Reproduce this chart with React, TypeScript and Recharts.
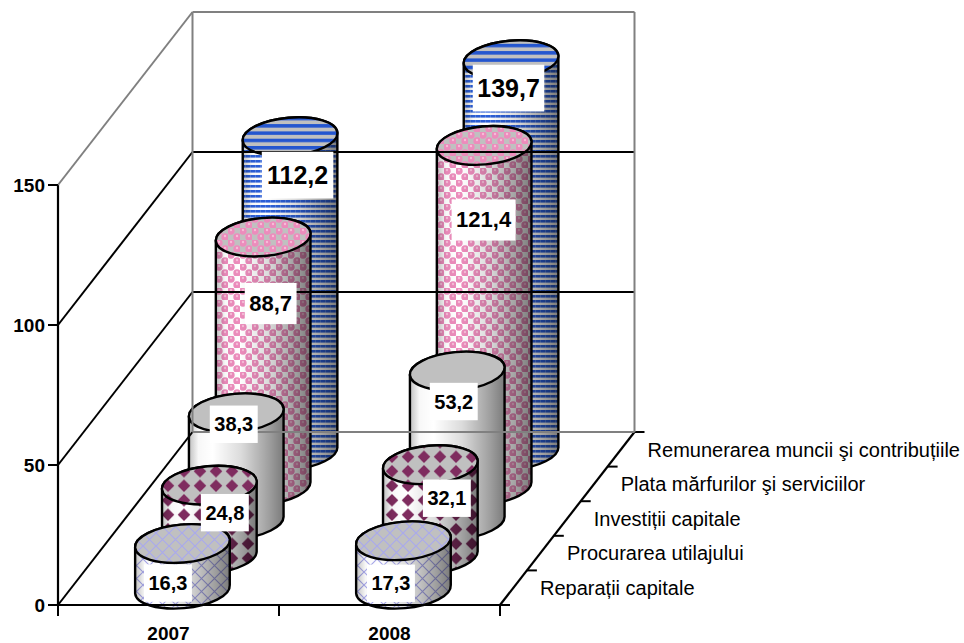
import React from "react";
import { ComposedChart, Bar, XAxis, YAxis, LabelList } from "recharts";

const years = ["2007", "2008"];
const seriesNames = [
  "Reparații capitale",
  "Procurarea utilajului",
  "Investiții capitale",
  "Plata mărfurilor şi serviciilor",
  "Remunerarea muncii şi contribuțiile",
];
const reparatii = [16.3, 17.3];
const utilaj = [24.8, 32.1];
const investitii = [38.3, 53.2];
const marfuri = [88.7, 121.4];
const remunerare = [112.2, 139.7];
const allValues = [reparatii, utilaj, investitii, marfuri, remunerare];
const yTicks = [0, 50, 100, 150];

const data = years.map((year, i) => {
  const row: Record<string, string | number> = { year };
  allValues.forEach((vals, s) => {
    row[`s${s}`] = vals[i];
  });
  return row;
});

// 3d layout
const PLOT_LEFT = 58;
const PLOT_RIGHT = 500;
const PLOT_BOTTOM = 605;
const STEP_X = 26.9;
const STEP_Y = 34.6;
const DEPTH_X = STEP_X * 5;
const DEPTH_Y = STEP_Y * 5;
const RX = 47.5;
const RY = 19;
const TILT = -5;
const CYL_SHIFT_X = 0.5;
const CYL_SHIFT_Y = 1.5;
const FONT = "'Liberation Sans', Arial, sans-serif";

// label centre relative to the top centre of each cylinder, [series][year]
const labelOffsets = [
  [[-14, 41], [-12, 44]],
  [[16, 29], [17, 35]],
  [[-2, 13], [-3, 32]],
  [[8, 68], [0, 76]],
  [[8, 40], [-2, 30]],
];
const labelFont = [20, 20, 20, 22, 25];

function Patterns() {
  return (
    <defs>
      <pattern id="pat0" width="13" height="13" patternUnits="userSpaceOnUse">
        <path d="M0 0L13 13M13 0L0 13" stroke="#a9a9ec" strokeWidth="1.2" fill="none" />
      </pattern>
      <pattern id="pat1" width="16" height="14.5" patternUnits="userSpaceOnUse">
        <path d="M8 1L14.3 7.25L8 13.5L1.7 7.25Z" fill="#7f2c5f" />
      </pattern>
      <pattern id="pat3" width="12" height="12" patternUnits="userSpaceOnUse">
        <circle cx="3" cy="3" r="3.7" fill="#ec8cbc" />
        <circle cx="9" cy="9" r="3.7" fill="#ec8cbc" />
        <circle cx="3" cy="2" r="1.2" fill="#f7bcd8" />
        <circle cx="9" cy="8" r="1.2" fill="#f7bcd8" />
      </pattern>
      <pattern id="pat4" width="5" height="5" patternUnits="userSpaceOnUse">
        <rect width="5" height="2.6" fill="#2c5fd8" />
        <rect width="1" height="5" fill="#fff" fillOpacity={0.2} />
      </pattern>
      <pattern id="pat4top" width="7.3" height="7.3" patternUnits="userSpaceOnUse">
        <rect width="7.3" height="3.5" fill="#2456cf" />
      </pattern>
      <linearGradient id="shade" x1="0" y1="0" x2="1" y2="0">
        <stop offset="0" stopColor="#000" stopOpacity={0.25} />
        <stop offset="0.1" stopColor="#000" stopOpacity={0.03} />
        <stop offset="0.25" stopColor="#000" stopOpacity={0} />
        <stop offset="0.55" stopColor="#000" stopOpacity={0.14} />
        <stop offset="0.85" stopColor="#000" stopOpacity={0.38} />
        <stop offset="1" stopColor="#000" stopOpacity={0.52} />
      </linearGradient>
    </defs>
  );
}

function Cylinder(props: any) {
  const { x, y, width, height, depth } = props;
  const cx = x + width / 2 + STEP_X * (depth + 0.5) + CYL_SHIFT_X;
  const lift = STEP_Y * (depth + 0.5) - CYL_SHIFT_Y;
  const top = y - lift;
  const bottom = y + height - lift;
  const rad = (TILT * Math.PI) / 180;
  const ex = RX * Math.cos(rad);
  const ey = RX * Math.sin(rad);
  const arc = `A${RX} ${RY} ${TILT} 0 0`;
  const body = `M${cx - ex} ${top - ey}L${cx - ex} ${bottom - ey}${arc} ${cx + ex} ${bottom + ey}L${cx + ex} ${top + ey}${arc} ${cx - ex} ${top - ey}Z`;
  // drawn as a path so the pattern stays level
  const cap = `M${cx - ex} ${top - ey}${arc} ${cx + ex} ${top + ey}${arc} ${cx - ex} ${top - ey}Z`;
  const hasPattern = depth !== 2;
  const topPattern = depth === 4 ? "pat4top" : `pat${depth}`;
  return (
    <g>
      <path d={body} fill="#fff" />
      {hasPattern && <path d={body} fill={`url(#pat${depth})`} />}
      <path d={body} fill="url(#shade)" stroke="#000" strokeWidth={2.4} />
      <path d={cap} fill="#c0c0c0" />
      {hasPattern && <path d={cap} fill={`url(#${topPattern})`} />}
      <path d={cap} fill="none" stroke="#000" strokeWidth={2.4} />
    </g>
  );
}

function ValueLabel(props: any) {
  const { value, index, depth } = props;
  const box = props.viewBox ?? props;
  const [ox, oy] = labelOffsets[depth][index];
  const cx = box.x + box.width / 2 + STEP_X * (depth + 0.5) + ox;
  const cy = box.y - STEP_Y * (depth + 0.5) + oy;
  const text = Number(value).toFixed(1).replace(".", ",");
  const size = labelFont[depth];
  const w = (text.length - 1) * size * 0.556 + size * 0.278 + 9;
  const h = size * 1.87;
  return (
    <g>
      <rect x={cx - w / 2} y={cy - h / 2} width={w} height={h} fill="#fff" />
      <text
        x={cx}
        y={cy}
        textAnchor="middle"
        dominantBaseline="central"
        fontFamily={FONT}
        fontWeight="bold"
        fontSize={size}
        fill="#000"
      >
        {text}
      </text>
    </g>
  );
}

// value tick plus the wall lines that belong to that value
function ValueTick(props: any) {
  const { y, payload } = props;
  const v = payload.value;
  const backY = y - DEPTH_Y;
  const backLeft = PLOT_LEFT + DEPTH_X;
  const backRight = PLOT_RIGHT + DEPTH_X;
  return (
    <g>
      <line x1={PLOT_LEFT} y1={y} x2={backLeft} y2={backY} stroke={v === 150 ? "#808080" : "#000"} strokeWidth={2} />
      <line x1={backLeft} y1={backY} x2={backRight} y2={backY} stroke={v === 0 || v === 150 ? "#808080" : "#000"} strokeWidth={2} />
      {v === 150 && (
        <>
          <line x1={backLeft} y1={backY} x2={backLeft} y2={y - DEPTH_Y + 420} stroke="#808080" strokeWidth={2} />
          <line x1={backRight} y1={backY} x2={backRight} y2={y - DEPTH_Y + 420} stroke="#808080" strokeWidth={2} />
        </>
      )}
      <line x1={PLOT_LEFT - 10} y1={y} x2={PLOT_LEFT} y2={y} stroke="#000" strokeWidth={2} />
      <text x={45} y={y} textAnchor="end" dominantBaseline="central" fontFamily={FONT} fontWeight="bold" fontSize={19} fill="#000">
        {v}
      </text>
    </g>
  );
}

function YearTick(props: any) {
  const { x, payload } = props;
  const half = (PLOT_RIGHT - PLOT_LEFT) / 4;
  return (
    <g>
      <line x1={x - half} y1={PLOT_BOTTOM} x2={x - half} y2={PLOT_BOTTOM + 11} stroke="#000" strokeWidth={2} />
      <line x1={x + half} y1={PLOT_BOTTOM} x2={x + half} y2={PLOT_BOTTOM + 11} stroke="#000" strokeWidth={2} />
      <text x={x} y={633} textAnchor="middle" dominantBaseline="central" fontFamily={FONT} fontWeight="bold" fontSize={19} fill="#000">
        {payload.value}
      </text>
    </g>
  );
}

function DepthAxis() {
  return (
    <g>
      <line x1={PLOT_RIGHT} y1={PLOT_BOTTOM} x2={PLOT_RIGHT + DEPTH_X} y2={PLOT_BOTTOM - DEPTH_Y} stroke="#000" strokeWidth={2.2} />
      {[0, 1, 2, 3, 4, 5].map((i) => (
        <line
          key={i}
          x1={PLOT_RIGHT + STEP_X * i}
          y1={PLOT_BOTTOM - STEP_Y * i}
          x2={PLOT_RIGHT + STEP_X * i + 10}
          y2={PLOT_BOTTOM - STEP_Y * i}
          stroke="#000"
          strokeWidth={2}
        />
      ))}
      {seriesNames.map((name, i) => (
        <text
          key={name}
          x={PLOT_RIGHT + 40 + STEP_X * i}
          y={PLOT_BOTTOM - 17 - STEP_Y * i}
          dominantBaseline="central"
          fontFamily={FONT}
          fontSize={20}
          fill="#000"
        >
          {name}
        </text>
      ))}
    </g>
  );
}

export default function App() {
  const backToFront = [4, 3, 2, 1, 0];
  return (
    <div style={{ position: "absolute", left: 0, top: 0, background: "#fff" }}>
      <ComposedChart
        width={964}
        height={643}
        data={data}
        barSize={95}
        barGap={-95}
        margin={{ top: 185, right: 464, bottom: 0, left: 0 }}
      >
        <Patterns />
        <YAxis
          domain={[0, 150]}
          ticks={yTicks}
          width={58}
          tickLine={false}
          axisLine={{ stroke: "#000", strokeWidth: 2.2 }}
          tick={<ValueTick />}
          interval={0}
        />
        <XAxis
          dataKey="year"
          height={38}
          tickLine={false}
          axisLine={{ stroke: "#000", strokeWidth: 2.2 }}
          tick={<YearTick />}
        />
        <DepthAxis />
        {backToFront.map((s) => (
          <Bar
            key={s}
            dataKey={`s${s}`}
            isAnimationActive={false}
            shape={(p: any) => <Cylinder {...p} depth={s} />}
          >
            <LabelList dataKey={`s${s}`} content={(p: any) => <ValueLabel {...p} depth={s} />} />
          </Bar>
        ))}
      </ComposedChart>
    </div>
  );
}
